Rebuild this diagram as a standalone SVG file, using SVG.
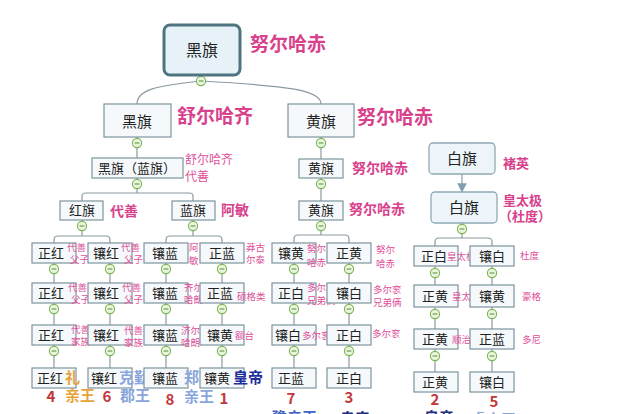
<svg xmlns="http://www.w3.org/2000/svg" width="618" height="414" viewBox="0 0 618 414">
<style>
text{font-family:"Noto Sans CJK SC","Noto Sans",sans-serif}
.bx{fill:#f5f9fc;stroke:#7d949e;stroke-width:1.2}
.bt{font-size:13px;fill:#222;text-anchor:middle}
.rb{fill:#edf5fa;stroke:#8ea9b6;stroke-width:1.3}
.pk{fill:#d8418c;font-weight:bold}
.ps{fill:#e0509a;font-size:9.5px}
.ln{fill:none;stroke:#8b9aa2;stroke-width:1.2}
.num{fill:#c2383a;font-size:15px;font-weight:bold;text-anchor:middle}
</style>
<defs>
<g id="tg"><circle r="4.6" fill="#eaf6dc" stroke="#79b554" stroke-width="1.1"/><path d="M-2.4,0H2.4" stroke="#5a8a40" stroke-width="1"/></g>
<marker id="ar" markerWidth="8" markerHeight="8" refX="4" refY="4" orient="auto"><path d="M0,0L8,4L0,8z" fill="#7f9fb0"/></marker>
</defs>
<rect width="618" height="414" fill="#ffffff"/>

<g id="connectors">
<path class="ln" d="M201,81C155,86 137,90 137,104"/>
<path class="ln" d="M201,81C290,86 321,90 321,104"/>
<path class="ln" d="M137,137V158M137,178V193M82,201V196Q82,193 86,193H189Q193,193 193,196V201"/>
<path class="ln" d="M321,137V159M321,178V201"/>
<path class="ln" d="M82,220V236M54,243V240Q54,236 58,236H106Q110,236 110,240V243"/>
<path class="ln" d="M193,220V236M166,243V240Q166,236 170,236H218Q222,236 222,240V243"/>
<path class="ln" d="M321,220V235M294,243V239Q294,235 298,235H345Q349,235 349,239V243"/>
<path class="ln" d="M462,174V188" marker-end="url(#ar)"/>
<path class="ln" d="M462,223V238M435,246V242Q435,238 439,238H488Q492,238 492,242V246"/>
<path class="ln" d="M54,263V368M110,263V368M166,263V368M222,263V368M294,263V368M349,263V368"/>
<path class="ln" d="M435,266V372M492,266V372"/>
</g>

<g id="toggles">
<use href="#tg" x="201" y="81"/>
<use href="#tg" x="137" y="143"/><use href="#tg" x="321" y="143"/>
<use href="#tg" x="137" y="184"/><use href="#tg" x="321" y="184"/>
<use href="#tg" x="82" y="226"/><use href="#tg" x="193" y="226"/><use href="#tg" x="321" y="226"/>
<use href="#tg" x="462" y="229"/>
<use href="#tg" x="54" y="269"/><use href="#tg" x="110" y="269"/><use href="#tg" x="166" y="269"/><use href="#tg" x="222" y="269"/><use href="#tg" x="294" y="269"/><use href="#tg" x="349" y="269"/>
<use href="#tg" x="54" y="309"/><use href="#tg" x="110" y="309"/><use href="#tg" x="166" y="309"/><use href="#tg" x="222" y="309"/><use href="#tg" x="294" y="309"/><use href="#tg" x="349" y="309"/>
<use href="#tg" x="54" y="351"/><use href="#tg" x="110" y="351"/><use href="#tg" x="166" y="351"/><use href="#tg" x="222" y="351"/><use href="#tg" x="294" y="351"/><use href="#tg" x="349" y="351"/>
<use href="#tg" x="435" y="273"/><use href="#tg" x="492" y="273"/>
<use href="#tg" x="435" y="314"/><use href="#tg" x="492" y="314"/>
<use href="#tg" x="435" y="356"/><use href="#tg" x="492" y="356"/>
</g>

<g id="root">
<rect x="164" y="25" width="76" height="50" rx="6" fill="#e7f1f8" stroke="#4e7480" stroke-width="3"/>
<text x="202" y="56" font-size="16" fill="#222" text-anchor="middle">黑旗</text>
<text x="250" y="51" font-size="19" class="pk">努尔哈赤</text>
</g>

<g id="n-heiqi2">
<rect class="bx" x="104" y="104" width="67" height="33"/>
<text x="137" y="127" font-size="15" fill="#222" text-anchor="middle">黑旗</text>
<text x="177" y="123" font-size="19" class="pk">舒尔哈齐</text>
</g>
<g id="n-huangqi2">
<rect class="bx" x="288" y="104" width="66" height="33"/>
<text x="321" y="127" font-size="15" fill="#222" text-anchor="middle">黄旗</text>
<text x="357" y="124" font-size="19" class="pk">努尔哈赤</text>
</g>

<g id="n-heilan">
<rect class="bx" x="92" y="158" width="91" height="20"/>
<text x="137" y="173" class="bt">黑旗（蓝旗）</text>
<text x="185" y="164" font-size="12" fill="#e0509a">舒尔哈齐</text>
<text x="185" y="181" font-size="12" fill="#e0509a">代善</text>
</g>
<g id="n-huangqi3">
<rect class="bx" x="299" y="159" width="44" height="19"/>
<text x="321" y="173" class="bt">黄旗</text>
<text x="352" y="173" font-size="14" class="pk">努尔哈赤</text>
</g>

<g id="n-hong">
<rect class="bx" x="60" y="201" width="43" height="19"/>
<text x="82" y="215" class="bt">红旗</text>
<text x="110" y="216" font-size="14" class="pk">代善</text>
</g>
<g id="n-lan">
<rect class="bx" x="172" y="201" width="43" height="19"/>
<text x="193" y="215" class="bt">蓝旗</text>
<text x="221" y="215" font-size="14" class="pk">阿敏</text>
</g>
<g id="n-huangqi4">
<rect class="bx" x="299" y="201" width="44" height="19"/>
<text x="321" y="215" class="bt">黄旗</text>
<text x="349" y="214" font-size="14" class="pk">努尔哈赤</text>
</g>

<g id="n-baiqi1">
<rect class="rb" x="429" y="143" width="66" height="31" rx="4"/>
<text x="462" y="164" font-size="15" fill="#222" text-anchor="middle">白旗</text>
<text x="503" y="168" font-size="13" class="pk">褚英</text>
</g>
<g id="n-baiqi2">
<rect class="rb" x="431" y="192" width="66" height="31" rx="4"/>
<text x="464" y="213" font-size="15" fill="#222" text-anchor="middle">白旗</text>
<text x="503" y="205" font-size="13" class="pk">皇太极</text>
<text x="499" y="221" font-size="13" class="pk">（杜度）</text>
</g>

<!-- row 1 -->
<g id="r1-zhenghong"><rect class="bx" x="32" y="243" width="44" height="20"/><text x="51" y="258" class="bt">正红</text><text x="67" y="251" class="ps">代善</text><text x="70" y="263" class="ps">父子</text></g>
<g id="r1-xianghong"><rect class="bx" x="88" y="243" width="44" height="20"/><text x="106" y="258" class="bt">镶红</text><text x="121" y="251" class="ps">代善</text><text x="124" y="263" class="ps">父子</text></g>
<g id="r1-xianglan"><rect class="bx" x="144" y="243" width="44" height="20"/><text x="165" y="258" class="bt">镶蓝</text><text x="189" y="251" class="ps" font-size="10.5">阿</text><text x="189" y="264" class="ps" font-size="10.5">敏</text></g>
<g id="r1-zhenglan"><rect class="bx" x="200" y="243" width="44" height="20"/><text x="222" y="258" class="bt">正蓝</text><text x="246" y="251" class="ps">莽古</text><text x="246" y="263" class="ps">尔泰</text></g>
<g id="r1-xianghuang"><rect class="bx" x="272" y="243" width="44" height="20"/><text x="291" y="258" class="bt">镶黄</text><text x="307" y="252" class="ps" font-size="10.5">努尔</text><text x="307" y="266" class="ps" font-size="10.5">哈赤</text></g>
<g id="r1-zhenghuang"><rect class="bx" x="327" y="243" width="44" height="20"/><text x="349" y="258" class="bt">正黄</text><text x="376" y="253" class="ps" font-size="10.5">努尔</text><text x="376" y="267" class="ps" font-size="10.5">哈赤</text></g>
<g id="r1-zhengbai"><rect class="bx" x="414" y="246" width="44" height="20"/><text x="434" y="261" class="bt" font-size="14">正白</text><text x="447" y="260" class="ps" font-size="9">皇太极</text></g>
<g id="r1-xiangbai"><rect class="bx" x="470" y="246" width="44" height="20"/><text x="492" y="261" class="bt" font-size="14">镶白</text><text x="520" y="259" class="ps">杜度</text></g>

<!-- row 2 -->
<g id="r2-zhenghong"><rect class="bx" x="32" y="283" width="44" height="20"/><text x="51" y="298" class="bt">正红</text><text x="68" y="291" class="ps">代善</text><text x="71" y="303" class="ps">父子</text></g>
<g id="r2-xianghong"><rect class="bx" x="88" y="283" width="44" height="20"/><text x="106" y="298" class="bt">镶红</text><text x="122" y="291" class="ps">代善</text><text x="124" y="303" class="ps">父子</text></g>
<g id="r2-xianglan"><rect class="bx" x="144" y="283" width="44" height="20"/><text x="165" y="298" class="bt">镶蓝</text><text x="184" y="291" class="ps">齐尔</text><text x="184" y="303" class="ps">哈朗</text></g>
<g id="r2-zhenglan"><rect class="bx" x="200" y="283" width="44" height="20"/><text x="220" y="298" class="bt">正蓝</text><text x="237" y="300" class="ps" font-size="9">硕格类</text></g>
<g id="r2-zhengbai"><rect class="bx" x="272" y="283" width="44" height="20"/><text x="291" y="298" class="bt">正白</text><text x="307" y="291" class="ps" font-size="9">多尔衮</text><text x="307" y="304" class="ps" font-size="9">兄弟俩</text></g>
<g id="r2-xiangbai"><rect class="bx" x="327" y="283" width="44" height="20"/><text x="349" y="298" class="bt">镶白</text><text x="373" y="293" class="ps" font-size="9">多尔衮</text><text x="373" y="306" class="ps" font-size="9">兄弟俩</text></g>
<g id="r2-zhenghuang"><rect class="bx" x="414" y="285" width="44" height="22"/><text x="435" y="301" class="bt" font-size="14">正黄</text><text x="452" y="300" class="ps" font-size="9">皇太极</text></g>
<g id="r2-xianghuang"><rect class="bx" x="470" y="285" width="44" height="22"/><text x="492" y="301" class="bt" font-size="14">镶黄</text><text x="522" y="300" class="ps">豪格</text></g>

<!-- row 3 -->
<g id="r3-zhenghong"><rect class="bx" x="32" y="325" width="44" height="20"/><text x="51" y="340" class="bt">正红</text><text x="71" y="333" class="ps">代善</text><text x="71" y="345" class="ps">家族</text></g>
<g id="r3-xianghong"><rect class="bx" x="88" y="325" width="44" height="20"/><text x="106" y="340" class="bt">镶红</text><text x="124" y="334" class="ps">代善</text><text x="124" y="346" class="ps">家族</text></g>
<g id="r3-xianglan"><rect class="bx" x="144" y="325" width="44" height="20"/><text x="165" y="340" class="bt">镶蓝</text><text x="181" y="334" class="ps">济尔</text><text x="181" y="346" class="ps">哈朗</text></g>
<g id="r3-xianghuang"><rect class="bx" x="200" y="325" width="44" height="20"/><text x="220" y="340" class="bt">镶黄</text><text x="235" y="339" class="ps">额台</text></g>
<g id="r3-xiangbai"><rect class="bx" x="272" y="325" width="44" height="20"/><text x="288" y="340" class="bt">镶白</text><text x="302" y="339" class="ps">多尔衮</text></g>
<g id="r3-zhengbai"><rect class="bx" x="327" y="325" width="44" height="20"/><text x="349" y="340" class="bt">正白</text><text x="372" y="337" class="ps">多尔衮</text></g>
<g id="r3-zhenghuang"><rect class="bx" x="414" y="329" width="44" height="20"/><text x="435" y="344" class="bt" font-size="14">正黄</text><text x="452" y="343" class="ps">顺治</text></g>
<g id="r3-zhenglan"><rect class="bx" x="470" y="329" width="44" height="20"/><text x="492" y="344" class="bt" font-size="14">正蓝</text><text x="522" y="343" class="ps">多尼</text></g>

<!-- row 4 -->
<g id="r4-zhenghong"><rect class="bx" x="32" y="368" width="44" height="20"/><text x="50" y="383" class="bt">正红</text><text x="65" y="383" font-size="15" font-weight="bold" fill="#e6a33a">礼</text></g>
<g id="r4-xianghong"><rect class="bx" x="88" y="368" width="44" height="20"/><text x="104" y="383" class="bt">镶红</text><text x="119" y="383" font-size="15" font-weight="bold" fill="#88a6dc">克勤</text></g>
<g id="r4-xianglan"><rect class="bx" x="144" y="368" width="44" height="20"/><text x="165" y="383" class="bt">镶蓝</text><text x="184" y="383" font-size="15" font-weight="bold" fill="#88a6dc">郑</text></g>
<g id="r4-xianghuang"><rect class="bx" x="200" y="368" width="44" height="20"/><text x="217" y="383" class="bt">镶黄</text><text x="233" y="383" font-size="15" font-weight="bold" fill="#1f2e9c">皇帝</text></g>
<g id="r4-zhenglan"><rect class="bx" x="272" y="368" width="44" height="20"/><text x="291" y="383" class="bt">正蓝</text></g>
<g id="r4-zhengbai"><rect class="bx" x="327" y="368" width="44" height="20"/><text x="349" y="383" class="bt">正白</text></g>
<g id="r4-zhenghuang"><rect class="bx" x="414" y="372" width="44" height="20"/><text x="435" y="387" class="bt" font-size="14">正黄</text></g>
<g id="r4-xiangbai"><rect class="bx" x="470" y="372" width="44" height="20"/><text x="492" y="387" class="bt" font-size="14">镶白</text></g>

<g id="bottom-labels">
<text x="51" y="402" class="num">4</text>
<text x="65" y="401" font-size="15" font-weight="bold" fill="#e6a33a">亲王</text>
<text x="107" y="402" class="num">6</text>
<text x="120" y="401" font-size="15" font-weight="bold" fill="#88a6dc">郡王</text>
<text x="170" y="405" class="num">8</text>
<text x="184" y="402" font-size="15" font-weight="bold" fill="#88a6dc">亲王</text>
<text x="224" y="404" class="num">1</text>
<text x="291" y="404" class="num">7</text>
<text x="349" y="403" class="num">3</text>
<text x="435" y="405" class="num">2</text>
<text x="494" y="407" class="num">5</text>
<text x="272" y="423" font-size="15" font-weight="bold" fill="#3f63c6">豫亲王</text>
<text x="340" y="424" font-size="15" font-weight="bold" fill="#1f2e7a">皇帝</text>
<text x="424" y="423" font-size="15" font-weight="bold" fill="#1f2e7a">皇帝</text>
<text x="471" y="425" font-size="15" font-weight="bold" fill="#88a6dc">睿亲王</text>
</g>
</svg>
